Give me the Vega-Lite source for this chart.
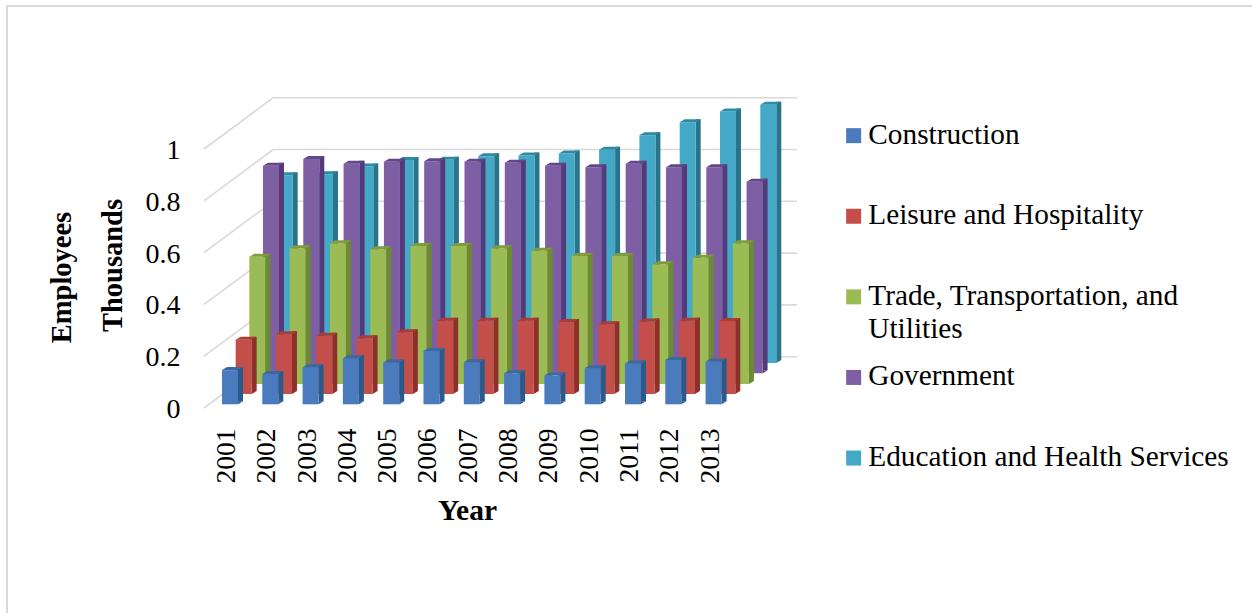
{
"$schema":"https://vega.github.io/schema/vega-lite/v6.json",
"width":1246,"height":607,
"autosize":"none",
"padding":{"left":6,"top":6,"right":0,"bottom":0},
"background":"white",
"config":{"view":{"stroke":null},"font":"Liberation Serif"},
"datasets":{
"frame":[{}],
"levels":[{"level":0},{"level":0.2},{"level":0.4},{"level":0.6},{"level":0.8},{"level":1}],
"employment":[
{"year":2001,"series":"Construction","value":0.132},{"year":2002,"series":"Construction","value":0.117},{"year":2003,"series":"Construction","value":0.143},{"year":2004,"series":"Construction","value":0.178},{"year":2005,"series":"Construction","value":0.161},{"year":2006,"series":"Construction","value":0.206},{"year":2007,"series":"Construction","value":0.162},{"year":2008,"series":"Construction","value":0.12},{"year":2009,"series":"Construction","value":0.111},{"year":2010,"series":"Construction","value":0.139},{"year":2011,"series":"Construction","value":0.158},{"year":2012,"series":"Construction","value":0.171},{"year":2013,"series":"Construction","value":0.165},
{"year":2001,"series":"Leisure and Hospitality","value":0.209},{"year":2002,"series":"Leisure and Hospitality","value":0.231},{"year":2003,"series":"Leisure and Hospitality","value":0.225},{"year":2004,"series":"Leisure and Hospitality","value":0.215},{"year":2005,"series":"Leisure and Hospitality","value":0.238},{"year":2006,"series":"Leisure and Hospitality","value":0.283},{"year":2007,"series":"Leisure and Hospitality","value":0.283},{"year":2008,"series":"Leisure and Hospitality","value":0.283},{"year":2009,"series":"Leisure and Hospitality","value":0.278},{"year":2010,"series":"Leisure and Hospitality","value":0.269},{"year":2011,"series":"Leisure and Hospitality","value":0.28},{"year":2012,"series":"Leisure and Hospitality","value":0.283},{"year":2013,"series":"Leisure and Hospitality","value":0.282},
{"year":2001,"series":"Trade, Transportation, and Utilities","value":0.491},{"year":2002,"series":"Trade, Transportation, and Utilities","value":0.524},{"year":2003,"series":"Trade, Transportation, and Utilities","value":0.543},{"year":2004,"series":"Trade, Transportation, and Utilities","value":0.52},{"year":2005,"series":"Trade, Transportation, and Utilities","value":0.533},{"year":2006,"series":"Trade, Transportation, and Utilities","value":0.533},{"year":2007,"series":"Trade, Transportation, and Utilities","value":0.524},{"year":2008,"series":"Trade, Transportation, and Utilities","value":0.514},{"year":2009,"series":"Trade, Transportation, and Utilities","value":0.494},{"year":2010,"series":"Trade, Transportation, and Utilities","value":0.494},{"year":2011,"series":"Trade, Transportation, and Utilities","value":0.462},{"year":2012,"series":"Trade, Transportation, and Utilities","value":0.487},{"year":2013,"series":"Trade, Transportation, and Utilities","value":0.543},
{"year":2001,"series":"Government","value":0.801},{"year":2002,"series":"Government","value":0.827},{"year":2003,"series":"Government","value":0.809},{"year":2004,"series":"Government","value":0.817},{"year":2005,"series":"Government","value":0.819},{"year":2006,"series":"Government","value":0.817},{"year":2007,"series":"Government","value":0.813},{"year":2008,"series":"Government","value":0.801},{"year":2009,"series":"Government","value":0.796},{"year":2010,"series":"Government","value":0.809},{"year":2011,"series":"Government","value":0.796},{"year":2012,"series":"Government","value":0.796},{"year":2013,"series":"Government","value":0.74},
{"year":2001,"series":"Education and Health Services","value":0.725},{"year":2002,"series":"Education and Health Services","value":0.729},{"year":2003,"series":"Education and Health Services","value":0.759},{"year":2004,"series":"Education and Health Services","value":0.784},{"year":2005,"series":"Education and Health Services","value":0.785},{"year":2006,"series":"Education and Health Services","value":0.798},{"year":2007,"series":"Education and Health Services","value":0.801},{"year":2008,"series":"Education and Health Services","value":0.809},{"year":2009,"series":"Education and Health Services","value":0.823},{"year":2010,"series":"Education and Health Services","value":0.879},{"year":2011,"series":"Education and Health Services","value":0.93},{"year":2012,"series":"Education and Health Services","value":0.971},{"year":2013,"series":"Education and Health Services","value":0.997}
]},
"resolve":{"axis":{"y":"independent"}},
"layer":[
{"data":{"name":"frame"},"mark":{"type":"rule","color":"#d9d9d9","strokeWidth":2},"encoding":{"x":{"datum":1995.467,"type":"quantitative","scale":{"domain":[1995.442,2026.36],"nice":false,"zero":false,"padding":0}}}},
{"data":{"name":"frame"},"mark":{"type":"rule","color":"#d9d9d9","strokeWidth":2},"encoding":{"y":{"datum":1.5521,"type":"quantitative","axis":null,"scale":{"domain":[-0.7915,1.5521],"nice":false,"zero":false}}}},
{"data":{"name":"levels"},"mark":{"type":"rule","color":"#d9d9d9","strokeWidth":1.6,"yOffset":-51.3,"y2Offset":-51.3},
"encoding":{"x":{"datum":2002.075,"type":"quantitative"},"x2":{"datum":2015.07},
"y":{"field":"level","type":"quantitative","scale":{"domain":[-0.7915,1.5521],"nice":false,"zero":false},
"axis":{"orient":"left","offset":-174,"values":[0,0.2,0.4,0.6,0.8,1],"format":"~g","domain":false,"ticks":false,"grid":false,"labelPadding":0,"labelOffset":1.5,"labelFont":"Liberation Serif","labelFontSize":28,"labelColor":"#000","title":"Thousands","titleFont":"Liberation Serif","titleFontSize":28.5,"titleFontWeight":"bold","titleColor":"#000","titleX":-68,"titleY":259,"titleAngle":270,"titleBaseline":"middle","titleAlign":"center"}},
"y2":{"field":"level"}}},
{"data":{"name":"levels"},"mark":{"type":"rule","color":"#d9d9d9","strokeWidth":1.6,"y2Offset":-51.3},
"encoding":{"x":{"datum":2000.355,"type":"quantitative"},"x2":{"datum":2002.075},
"y":{"field":"level","type":"quantitative",
"axis":{"orient":"left","offset":-174,"values":[0,0.2,0.4,0.6,0.8,1],"domain":false,"ticks":false,"grid":false,"labels":false,"title":"Employees","titleFont":"Liberation Serif","titleFontSize":28.5,"titleFontWeight":"bold","titleColor":"#000","titleX":-119,"titleY":271,"titleAngle":270,"titleBaseline":"middle","titleAlign":"center"}},
"y2":{"field":"level"}}},
{"data":{"name":"employment"},
"encoding":{
"x":{"field":"year","type":"quantitative","scale":{"domain":[1995.442,2026.36],"nice":false,"zero":false,"padding":0},
"axis":{"orient":"bottom","offset":-205,"values":[2001,2002,2003,2004,2005,2006,2007,2008,2009,2010,2011,2012,2013],"format":"d","domain":false,"ticks":false,"grid":false,"labelAngle":270,"labelAlign":"right","labelBaseline":"middle","labelPadding":20,"labelOffset":-3.5,"labelOverlap":false,"labelFlush":false,"labelFont":"Liberation Serif","labelFontSize":27.5,"labelColor":"#000","title":"Year","titleFont":"Liberation Serif","titleFontSize":29.5,"titleFontWeight":"bold","titleColor":"#000","titleX":461,"titleY":102,"titleBaseline":"middle","titleAlign":"center"}},
"y":{"field":"value","type":"quantitative","axis":null,"scale":{"domain":[-0.7915,1.5521],"nice":false,"zero":false}},
"y2":{"datum":0}
},
"layer":[
{"transform":[{"filter":"datum.series==='Education and Health Services'"}],"layer":[
{"mark":{"type":"bar","width":5,"color":"#2a7489","xOffset":65.2,"yOffset":-48,"y2Offset":-48}},
{"mark":{"type":"bar","width":16,"xOffset":54.7,"yOffset":-45,"y2Offset":-45},"encoding":{"color":{"field":"series"}}},
{"mark":{"type":"point","filled":true,"opacity":1,"size":400,"color":"#2f8aa3","shape":"M-.8 0L.8 0L1.3 -.3L-.3 -.3Z","xOffset":54.7,"yOffset":-45},"encoding":{"y2":null}},
{"mark":{"type":"point","filled":true,"opacity":1,"size":400,"color":"#2a7489","shape":"M.8 0L.8 -.3L1.3 -.3Z","xOffset":54.7,"yOffset":-45},"encoding":{"y":{"datum":0,"type":"quantitative"},"y2":null}}
]},
{"transform":[{"filter":"datum.series==='Government'"}],"layer":[
{"mark":{"type":"bar","width":5,"color":"#55397a","xOffset":51.5,"yOffset":-37.7,"y2Offset":-37.7}},
{"mark":{"type":"bar","width":16,"xOffset":41,"yOffset":-34.7,"y2Offset":-34.7},"encoding":{"color":{"field":"series"}}},
{"mark":{"type":"point","filled":true,"opacity":1,"size":400,"color":"#64468a","shape":"M-.8 0L.8 0L1.3 -.3L-.3 -.3Z","xOffset":41,"yOffset":-34.7},"encoding":{"y2":null}},
{"mark":{"type":"point","filled":true,"opacity":1,"size":400,"color":"#55397a","shape":"M.8 0L.8 -.3L1.3 -.3Z","xOffset":41,"yOffset":-34.7},"encoding":{"y":{"datum":0,"type":"quantitative"},"y2":null}}
]},
{"transform":[{"filter":"datum.series==='Trade, Transportation, and Utilities'"}],"layer":[
{"mark":{"type":"bar","width":5,"color":"#6c8a30","xOffset":37.83,"yOffset":-27,"y2Offset":-27}},
{"mark":{"type":"bar","width":16,"xOffset":27.33,"yOffset":-24,"y2Offset":-24},"encoding":{"color":{"field":"series"}}},
{"mark":{"type":"point","filled":true,"opacity":1,"size":400,"color":"#7f9c3e","shape":"M-.8 0L.8 0L1.3 -.3L-.3 -.3Z","xOffset":27.33,"yOffset":-24},"encoding":{"y2":null}},
{"mark":{"type":"point","filled":true,"opacity":1,"size":400,"color":"#6c8a30","shape":"M.8 0L.8 -.3L1.3 -.3Z","xOffset":27.33,"yOffset":-24},"encoding":{"y":{"datum":0,"type":"quantitative"},"y2":null}}
]},
{"transform":[{"filter":"datum.series==='Leisure and Hospitality'"}],"layer":[
{"mark":{"type":"bar","width":5,"color":"#8f2f2b","xOffset":24.17,"yOffset":-17,"y2Offset":-17}},
{"mark":{"type":"bar","width":16,"xOffset":13.67,"yOffset":-14,"y2Offset":-14},"encoding":{"color":{"field":"series"}}},
{"mark":{"type":"point","filled":true,"opacity":1,"size":400,"color":"#a83c36","shape":"M-.8 0L.8 0L1.3 -.3L-.3 -.3Z","xOffset":13.67,"yOffset":-14},"encoding":{"y2":null}},
{"mark":{"type":"point","filled":true,"opacity":1,"size":400,"color":"#8f2f2b","shape":"M.8 0L.8 -.3L1.3 -.3Z","xOffset":13.67,"yOffset":-14},"encoding":{"y":{"datum":0,"type":"quantitative"},"y2":null}}
]},
{"transform":[{"filter":"datum.series==='Construction'"}],"layer":[
{"mark":{"type":"bar","width":5,"color":"#2a5a8c","xOffset":10.5,"yOffset":-6.7,"y2Offset":-6.7}},
{"mark":{"type":"bar","width":16,"xOffset":0,"yOffset":-3.7,"y2Offset":-3.7},"encoding":{"color":{"field":"series","type":"nominal","scale":{"domain":["Construction","Leisure and Hospitality","Trade, Transportation, and Utilities","Government","Education and Health Services"],"range":["#4a7cbd","#c44e49","#9bbb55","#7f5fa3","#44a9c6"]},
"legend":{"orient":"none","legendX":833,"legendY":115,"title":null,"symbolType":"square","symbolSize":225,"symbolStrokeWidth":0,"labelFont":"Liberation Serif","labelFontSize":29.3,"labelColor":"#000","labelLimit":500,"labelOffset":0,"labelBaseline":"top","labelExpr":"datum.label==='Trade, Transportation, and Utilities'?['Trade, Transportation, and','Utilities']:datum.label","gridAlign":"all","rowPadding":17.6,"padding":0,"encode":{"labels":{"update":{"dy":{"value":-15},"lineHeight":{"value":33}}}}}}}},
{"mark":{"type":"point","filled":true,"opacity":1,"size":400,"color":"#3a6a9f","shape":"M-.8 0L.8 0L1.3 -.3L-.3 -.3Z","xOffset":0,"yOffset":-3.7},"encoding":{"y2":null}},
{"mark":{"type":"point","filled":true,"opacity":1,"size":400,"color":"#2a5a8c","shape":"M.8 0L.8 -.3L1.3 -.3Z","xOffset":0,"yOffset":-3.7},"encoding":{"y":{"datum":0,"type":"quantitative"},"y2":null}}
]}
]}
]}
